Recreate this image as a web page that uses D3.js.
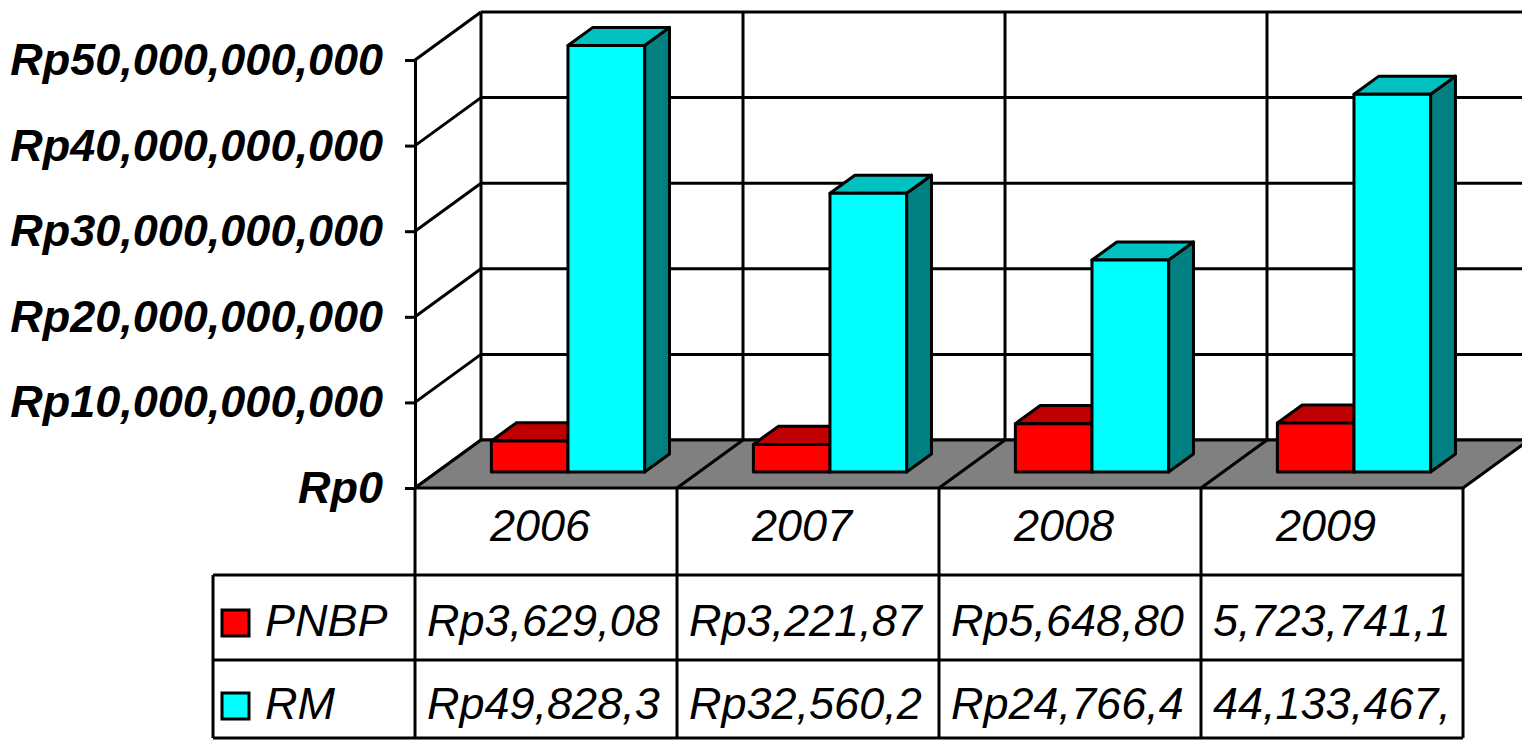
<!DOCTYPE html>
<html>
<head>
<meta charset="utf-8">
<script src="https://cdn.jsdelivr.net/npm/d3@7"></script>
<style>
body { margin: 0; background: #fff; overflow: hidden; }
text { font-family: "Liberation Sans", Arial, sans-serif; font-style: italic; }
</style>
</head>
<body>
<div id="chart"></div>
<script>
// Data
var years = ["2006", "2007", "2008", "2009"];
var series = ["PNBP", "RM"];
var pnbpValues = [3.629e9, 3.222e9, 5.649e9, 5.724e9];
var rmValues = [49.828e9, 32.560e9, 24.766e9, 44.133e9];
var yTicks = [0, 10e9, 20e9, 30e9, 40e9, 50e9];
// table cell texts as shown (clipped in the original)
var pnbpText = ["Rp3,629,08", "Rp3,221,87", "Rp5,648,80", "5,723,741,1"];
var rmText = ["Rp49,828,3", "Rp32,560,2", "Rp24,766,4", "44,133,467,"];

var frontColors = ["#ff0000", "#00ffff"];
var topColors = ["#c00000", "#00c0c0"];
var sideColors = ["#800000", "#008080"];

var svgWidth = 1522;
var svgHeight = 740;
var left = 415, right = 1463;
var floorY = 488, topY = 60;
var depthX = 66, depthY = -48;
var barD0 = 0.333, barD1 = 0.71;
var lw = 3;
var fontSize = "45px";

var svg = d3.select("#chart")
    .append("svg")
    .attr("width", svgWidth)
    .attr("height", svgHeight);

var x0 = d3.scaleBand().domain(years).range([left, right]);
var x1 = d3.scaleBand().domain(series).range([0, x0.bandwidth()]).paddingOuter(0.71);
var y = d3.scaleLinear().domain([0, 50e9]).range([floorY, topY]);

var values = [pnbpValues, rmValues];

// back wall gridlines
svg.selectAll("line.grid")
    .data(yTicks)
    .enter()
    .append("line")
    .attr("x1", left + depthX)
    .attr("x2", svgWidth + 20)
    .attr("y1", function (d) { return y(d) + depthY; })
    .attr("y2", function (d) { return y(d) + depthY; })
    .attr("stroke", "#000")
    .attr("stroke-width", lw);

// side wall diagonals
svg.selectAll("line.side")
    .data(yTicks)
    .enter()
    .append("line")
    .attr("x1", left)
    .attr("x2", left + depthX)
    .attr("y1", function (d) { return y(d); })
    .attr("y2", function (d) { return y(d) + depthY; })
    .attr("stroke", "#000")
    .attr("stroke-width", lw);

// back wall verticals at category boundaries
var bounds = years.map(function (d) { return x0(d); }).concat([right]);
svg.selectAll("line.vback")
    .data(bounds)
    .enter()
    .append("line")
    .attr("x1", function (d) { return d + depthX; })
    .attr("x2", function (d) { return d + depthX; })
    .attr("y1", y(50e9) + depthY)
    .attr("y2", y(0) + depthY)
    .attr("stroke", "#000")
    .attr("stroke-width", lw);

// floor
svg.append("polygon")
    .attr("points", [[left, floorY], [right, floorY], [right + depthX, floorY + depthY], [left + depthX, floorY + depthY]])
    .attr("fill", "#808080")
    .attr("stroke", "#000")
    .attr("stroke-width", lw);

svg.selectAll("line.floor")
    .data(bounds.slice(1, 4))
    .enter()
    .append("line")
    .attr("x1", function (d) { return d; })
    .attr("x2", function (d) { return d + depthX; })
    .attr("y1", floorY)
    .attr("y2", floorY + depthY)
    .attr("stroke", "#000")
    .attr("stroke-width", lw);

// bars
var bars = [];
years.forEach(function (yr, i) {
    series.forEach(function (s, j) {
        bars.push({ year: yr, s: j, value: values[j][i] });
    });
});

var ddx = depthX * (barD1 - barD0);
var ddy = depthY * (barD1 - barD0);

var barG = svg.selectAll("g.bar")
    .data(bars)
    .enter()
    .append("g")
    .attr("class", "bar")
    .attr("stroke", "#000")
    .attr("stroke-width", lw)
    .attr("stroke-linejoin", "round");

function geom(d) {
    var xa = x0(d.year) + x1(series[d.s]) + depthX * barD0;
    var xb = xa + x1.bandwidth();
    var yb = y(0) + depthY * barD0;
    var yt = y(d.value) + depthY * barD0;
    return { xa: xa, xb: xb, yb: yb, yt: yt };
}

barG.append("polygon")
    .attr("fill", function (d) { return sideColors[d.s]; })
    .attr("points", function (d) {
        var g = geom(d);
        return [[g.xb, g.yt], [g.xb + ddx, g.yt + ddy], [g.xb + ddx, g.yb + ddy], [g.xb, g.yb]];
    });

barG.append("polygon")
    .attr("fill", function (d) { return topColors[d.s]; })
    .attr("points", function (d) {
        var g = geom(d);
        return [[g.xa, g.yt], [g.xb, g.yt], [g.xb + ddx, g.yt + ddy], [g.xa + ddx, g.yt + ddy]];
    });

barG.append("rect")
    .attr("fill", function (d) { return frontColors[d.s]; })
    .attr("x", function (d) { return geom(d).xa; })
    .attr("y", function (d) { return geom(d).yt; })
    .attr("width", x1.bandwidth())
    .attr("height", function (d) { var g = geom(d); return g.yb - g.yt; });

// y axis
var fmt = function (v) { return "Rp" + d3.format(",")(v); };
var yAxis = svg.append("g")
    .attr("transform", "translate(" + left + ",0)")
    .call(d3.axisLeft(y).tickValues(yTicks).tickFormat(fmt).tickSize(10).tickSizeOuter(0).tickPadding(22));
yAxis.select(".domain").attr("stroke-width", lw);
yAxis.selectAll(".tick line").attr("stroke-width", lw);
yAxis.selectAll(".tick text")
    .attr("fill", "#000")
    .style("font-size", fontSize)
    .style("font-weight", "bold")
    .style("font-style", "italic")
    .style("font-family", "'Liberation Sans', Arial, sans-serif");

// data table
var tableLeft = 213, row1 = 575, row2 = 660, tableBottom = 738;
var table = svg.append("g").attr("stroke", "#000").attr("stroke-width", lw);
bounds.forEach(function (bx) {
    table.append("line").attr("x1", bx).attr("x2", bx).attr("y1", floorY).attr("y2", tableBottom);
});
table.append("line").attr("x1", tableLeft).attr("x2", tableLeft).attr("y1", row1).attr("y2", tableBottom);
[row1, row2, tableBottom].forEach(function (ry) {
    table.append("line").attr("x1", tableLeft).attr("x2", right).attr("y1", ry).attr("y2", ry);
});

svg.selectAll("text.year")
    .data(years)
    .enter()
    .append("text")
    .attr("x", function (d) { return x0(d) + x0.bandwidth() / 2 - 6; })
    .attr("y", 541)
    .attr("text-anchor", "middle")
    .style("font-size", fontSize)
    .text(function (d) { return d; });

var rowBase = [636, 719];
var rowTop = [row1, row2];
var rowTexts = [pnbpText, rmText];

series.forEach(function (s, j) {
    svg.append("rect")
        .attr("x", 222).attr("y", rowBase[j] - 26)
        .attr("width", 27).attr("height", 26)
        .attr("fill", frontColors[j])
        .attr("stroke", "#000").attr("stroke-width", lw);
    svg.append("text")
        .attr("x", 265).attr("y", rowBase[j])
        .style("font-size", fontSize)
        .text(s);

    years.forEach(function (yr, i) {
        var id = "clip-" + j + "-" + i;
        svg.append("clipPath").attr("id", id)
            .append("rect")
            .attr("x", x0(yr) + 2).attr("y", rowTop[j])
            .attr("width", x0.bandwidth() - 4).attr("height", 85);
        svg.append("text")
            .attr("clip-path", "url(#" + id + ")")
            .attr("x", x0(yr) + 12)
            .attr("y", rowBase[j])
            .style("font-size", fontSize)
            .text(rowTexts[j][i]);
    });
});
</script>
</body>
</html>
